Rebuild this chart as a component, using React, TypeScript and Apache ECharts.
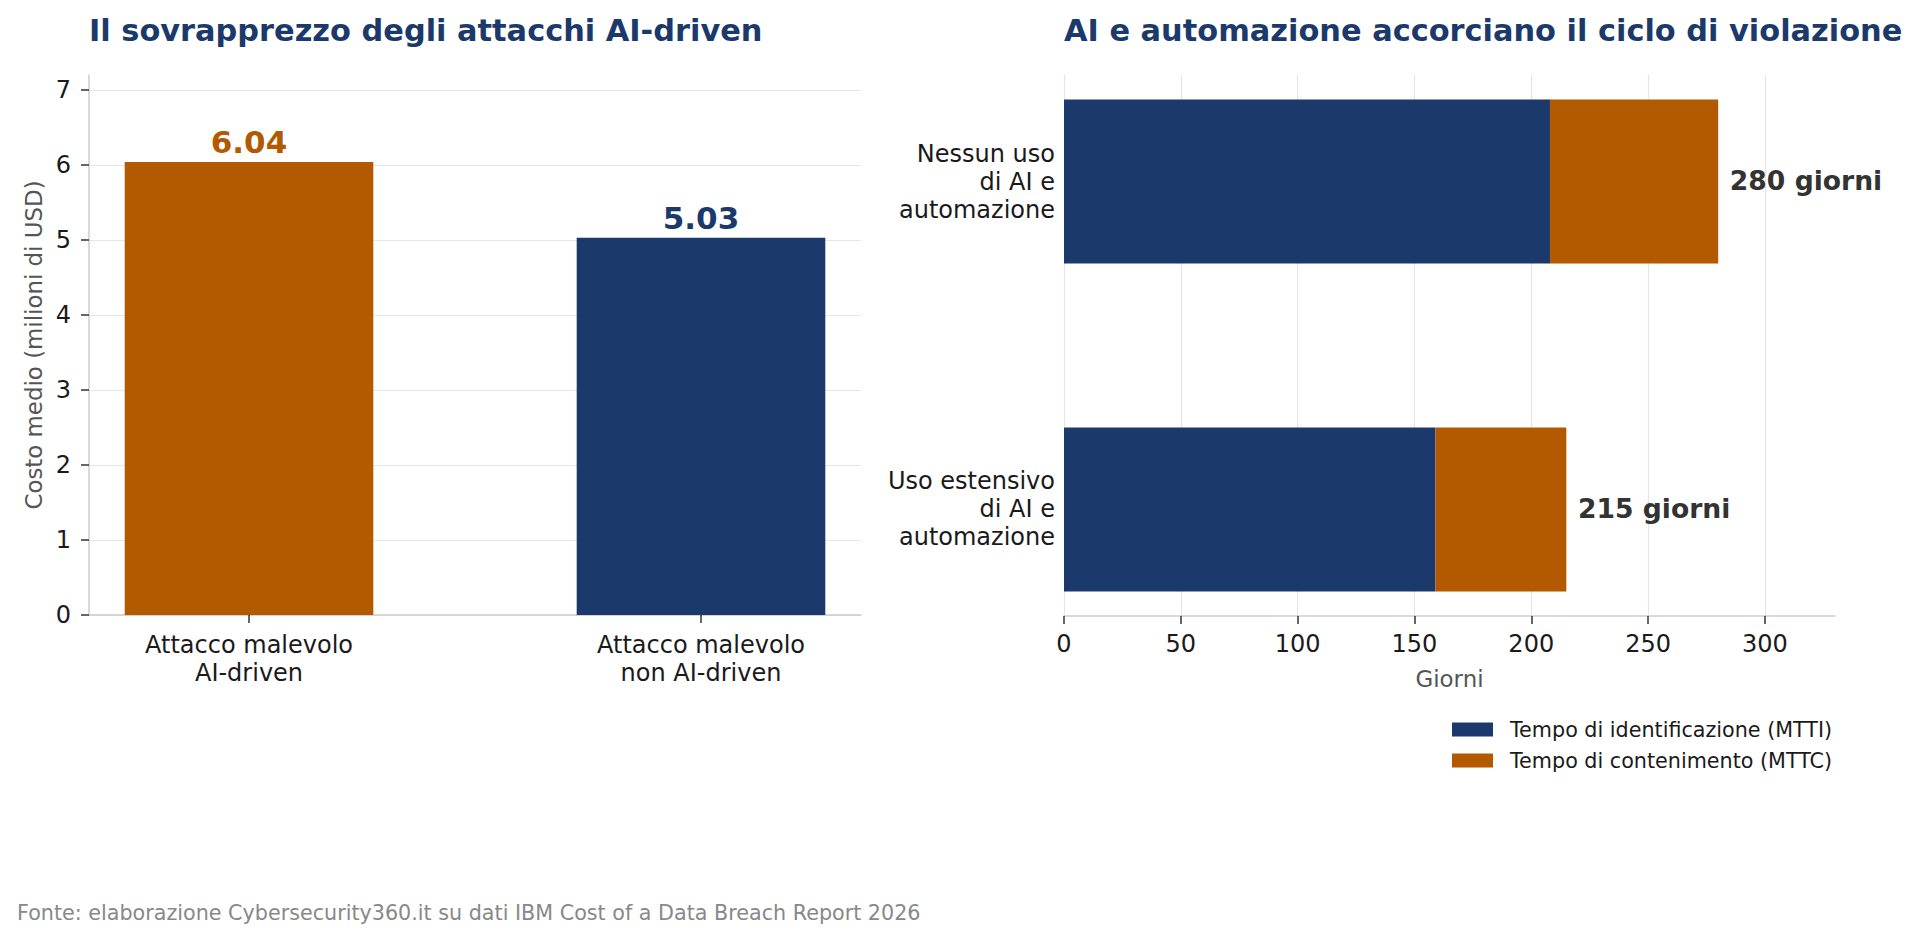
import React, { useEffect, useRef } from 'react';
import * as echarts from 'echarts';

const FONT = '"DejaVu Sans", "Liberation Sans", sans-serif';
const NAVY = '#1b3a6b';
const ORANGE = '#b35900';
const SPINE = '#cccccc';
const GRID_LINE = '#e6e6e6';
const TICK = '#333333';
const TEXT = '#1a1a1a';

const LEFT_TITLE = 'Il sovrapprezzo degli attacchi AI-driven';
const RIGHT_TITLE = 'AI e automazione accorciano il ciclo di violazione';
const SOURCE = 'Fonte: elaborazione Cybersecurity360.it su dati IBM Cost of a Data Breach Report 2026';

const ATTACK_CATEGORIES = ['Attacco malevolo\nAI-driven', 'Attacco malevolo\nnon AI-driven'];
const ATTACK_COST = [6.04, 5.03];
const ATTACK_COLORS = [ORANGE, NAVY];
const COST_TICKS = [0, 1, 2, 3, 4, 5, 6, 7];
const COST_AXIS_NAME = 'Costo medio (milioni di USD)';

const AI_CATEGORIES = ['Nessun uso\ndi AI e\nautomazione', 'Uso estensivo\ndi AI e\nautomazione'];
const MTTI_DAYS = [208, 159];
const MTTC_DAYS = [72, 56];
const DAY_TICKS = [0, 50, 100, 150, 200, 250, 300];
const DAY_AXIS_NAME = 'Giorni';
const SERIES_NAMES = ['Tempo di identificazione (MTTI)', 'Tempo di contenimento (MTTC)'];

const COL_W = 0.55;
const ROW_H = 0.5;
const LABEL_OFFSET_DAYS = 5;

function App() {
  const ref = useRef<HTMLDivElement>(null);

  useEffect(() => {
    if (!ref.current) return;
    const chart = echarts.init(ref.current, undefined, { renderer: 'svg' });

    const catIdx = [0, 1];

    const option: any = {
      animation: false,
      backgroundColor: '#ffffff',
      textStyle: { fontFamily: FONT },
      title: [
        {
          text: LEFT_TITLE,
          left: 89,
          top: 15,
          padding: 0,
          textStyle: { fontSize: 30.4, fontWeight: 'bold', color: NAVY, fontFamily: FONT },
        },
        {
          text: RIGHT_TITLE,
          left: 1064,
          top: 15,
          padding: 0,
          textStyle: { fontSize: 30.4, fontWeight: 'bold', color: NAVY, fontFamily: FONT },
        },
      ],
      legend: {
        data: SERIES_NAMES,
        orient: 'vertical',
        left: 1452,
        top: 719,
        padding: 0,
        itemWidth: 41,
        itemHeight: 14,
        itemGap: 10,
        icon: 'rect',
        selectedMode: false,
        textStyle: { fontSize: 20.7, color: TEXT, fontFamily: FONT, padding: [0, 0, 0, 12] },
      },
      grid: [
        { left: 89, top: 75, width: 772, height: 540 },
        { left: 1064, top: 75, width: 771, height: 541 },
      ],
      xAxis: [
        {
          type: 'value',
          gridIndex: 0,
          min: -0.354,
          max: 1.354,
          axisLine: { show: true, onZero: false, lineStyle: { color: SPINE, width: 1.5 } },
          axisTick: { show: true, customValues: catIdx, length: 8, lineStyle: { color: TICK, width: 1.5 } },
          axisLabel: {
            customValues: catIdx,
            formatter: (v: number) => ATTACK_CATEGORIES[Math.round(v)],
            fontSize: 24,
            lineHeight: 28,
            color: TEXT,
            margin: 16,
            fontFamily: FONT,
          },
          splitLine: { show: false },
        },
        {
          type: 'value',
          gridIndex: 1,
          min: 0,
          max: 330,
          name: DAY_AXIS_NAME,
          nameLocation: 'middle',
          nameGap: 51,
          nameTextStyle: { fontSize: 22.9, color: '#555555', fontFamily: FONT },
          axisLine: { show: true, onZero: false, lineStyle: { color: SPINE, width: 1.5 } },
          axisTick: { show: true, customValues: DAY_TICKS, length: 8, lineStyle: { color: TICK, width: 1.5 } },
          axisLabel: { customValues: DAY_TICKS, fontSize: 24, color: TEXT, margin: 16, fontFamily: FONT },
          splitLine: { show: true, lineStyle: { color: GRID_LINE, width: 1.2 } },
        },
      ],
      yAxis: [
        {
          type: 'value',
          gridIndex: 0,
          min: 0,
          max: 7.2,
          name: COST_AXIS_NAME,
          nameLocation: 'middle',
          nameGap: 44,
          nameTextStyle: { fontSize: 22.9, color: '#555555', fontFamily: FONT },
          axisLine: { show: true, onZero: false, lineStyle: { color: SPINE, width: 1.5 } },
          axisTick: { show: true, customValues: COST_TICKS, length: 8, lineStyle: { color: TICK, width: 1.5 } },
          axisLabel: { customValues: COST_TICKS, fontSize: 24, color: TEXT, margin: 18, fontFamily: FONT },
          splitLine: { show: true, lineStyle: { color: GRID_LINE, width: 1.2 } },
        },
        {
          type: 'value',
          gridIndex: 1,
          inverse: true,
          min: -0.325,
          max: 1.325,
          axisLine: { show: false, onZero: false },
          axisTick: { show: false },
          axisLabel: {
            customValues: catIdx,
            formatter: (v: number) => AI_CATEGORIES[Math.round(v)],
            fontSize: 24,
            lineHeight: 28,
            color: TEXT,
            margin: 9,
            align: 'right',
            fontFamily: FONT,
          },
          splitLine: { show: false },
        },
      ],
      series: [
        {
          type: 'custom',
          name: 'Costo medio',
          xAxisIndex: 0,
          yAxisIndex: 0,
          data: ATTACK_COST.map((v, i) => [i, v]),
          encode: { x: 0, y: 1 },
          renderItem: (params: any, api: any) => {
            const x = api.value(0);
            const v = api.value(1);
            const color = ATTACK_COLORS[params.dataIndex];
            const p0 = api.coord([x - COL_W / 2, v]);
            const p1 = api.coord([x + COL_W / 2, 0]);
            return {
              type: 'group',
              children: [
                {
                  type: 'rect',
                  shape: { x: p0[0], y: p0[1], width: p1[0] - p0[0], height: p1[1] - p0[1] },
                  style: { fill: color },
                },
                {
                  type: 'text',
                  x: (p0[0] + p1[0]) / 2,
                  y: p0[1] - 20,
                  style: {
                    text: v.toFixed(2),
                    fill: color,
                    fontSize: 31,
                    fontWeight: 'bold',
                    fontFamily: FONT,
                    align: 'center',
                    verticalAlign: 'middle',
                  },
                },
              ],
            };
          },
        },
        {
          type: 'custom',
          name: SERIES_NAMES[0],
          xAxisIndex: 1,
          yAxisIndex: 1,
          itemStyle: { color: NAVY },
          data: MTTI_DAYS.map((d, i) => [d, i]),
          encode: { x: 0, y: 1 },
          renderItem: (params: any, api: any) => {
            const end = api.value(0);
            const idx = api.value(1);
            const p0 = api.coord([0, idx - ROW_H / 2]);
            const p1 = api.coord([end, idx + ROW_H / 2]);
            return {
              type: 'rect',
              shape: {
                x: Math.min(p0[0], p1[0]),
                y: Math.min(p0[1], p1[1]),
                width: Math.abs(p1[0] - p0[0]),
                height: Math.abs(p1[1] - p0[1]),
              },
              style: { fill: NAVY },
            };
          },
        },
        {
          type: 'custom',
          name: SERIES_NAMES[1],
          xAxisIndex: 1,
          yAxisIndex: 1,
          itemStyle: { color: ORANGE },
          data: MTTI_DAYS.map((d, i) => [d, d + MTTC_DAYS[i], i]),
          encode: { x: [0, 1], y: 2 },
          renderItem: (params: any, api: any) => {
            const start = api.value(0);
            const end = api.value(1);
            const idx = api.value(2);
            const p0 = api.coord([start, idx - ROW_H / 2]);
            const p1 = api.coord([end, idx + ROW_H / 2]);
            const lp = api.coord([end + LABEL_OFFSET_DAYS, idx]);
            return {
              type: 'group',
              children: [
                {
                  type: 'rect',
                  shape: {
                    x: Math.min(p0[0], p1[0]),
                    y: Math.min(p0[1], p1[1]),
                    width: Math.abs(p1[0] - p0[0]),
                    height: Math.abs(p1[1] - p0[1]),
                  },
                  style: { fill: ORANGE },
                },
                {
                  type: 'text',
                  x: lp[0],
                  y: lp[1] - 1,
                  style: {
                    text: `${Math.round(end)} giorni`,
                    fill: '#333333',
                    fontSize: 26.6,
                    fontWeight: 'bold',
                    fontFamily: FONT,
                    align: 'left',
                    verticalAlign: 'middle',
                  },
                },
              ],
            };
          },
        },
      ],
      graphic: [
        {
          type: 'text',
          left: 17,
          top: 902,
          style: { text: SOURCE, fill: '#888888', fontSize: 20.7, fontFamily: FONT },
        },
      ],
    };

    chart.setOption(option);
    return () => chart.dispose();
  }, []);

  return (
    <div
      ref={ref}
      style={{ position: 'fixed', left: 0, top: 0, width: 1920, height: 940, background: '#fff' }}
    />
  );
}

export default App;
